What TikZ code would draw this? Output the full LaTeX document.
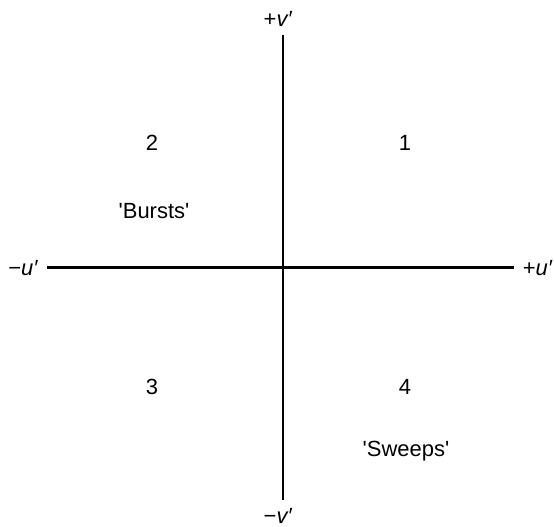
\documentclass[tikz,border=0pt]{standalone}
\usepackage{fontspec}
\setmainfont{Liberation Sans}
\usepackage{tikz}
\usetikzlibrary{positioning}
\tikzset{
  axis/.style     = {draw=black, line width=1.7pt},
  axlbl/.style    = {font=\fontsize{12.5}{15}\selectfont, inner sep=0pt},
  quadnum/.style  = {font=\fontsize{12.5}{15}\selectfont, inner sep=0pt},
  quadname/.style = {font=\fontsize{12.5}{15}\selectfont, inner sep=0pt},
}

\begin{document}
\begin{tikzpicture}
  \useasboundingbox (0,0) rectangle (11.08,10.54);

  % ---------- axis ends ------------------------------------------------
  \coordinate (uneg) at (0.94, 5.18);
  \coordinate (upos) at (10.28,5.18);
  \coordinate (vneg) at (5.66, 0.54);
  \coordinate (vpos) at (5.66, 9.84);

  % ---------- axes -----------------------------------------------------
  \draw[axis] (uneg) -- (upos);
  \draw[axis] (vneg) -- (vpos);

  % ---------- axis labels ----------------------------------------------
  \node[axlbl, left=0.17cm of uneg]  (lbluneg) {−\textit{u′}};
  \node[axlbl, right=0.17cm of upos] (lblupos) {+\textit{u′}};
  \node[axlbl, below=0.16cm of vneg, xshift=-0.1cm] (lblvneg) {−\textit{v′}};
  \node[axlbl, above=0.16cm of vpos, xshift=-0.1cm] (lblvpos) {+\textit{v′}};

  % ---------- quadrants ------------------------------------------------
  \node[quadnum] (q1) at (8.10, 7.68) {1};
  \node[quadnum] (q2) at (3.04, 7.68) {2};
  \node[quadnum] (q3) at (3.04, 2.80) {3};
  \node[quadnum] (q4) at (8.10, 2.80) {4};
  \node[quadname] (bursts) at (3.08, 6.32)
    {\textquotesingle Bursts\textquotesingle};
  \node[quadname] (sweeps) at (8.12, 1.52)
    {\textquotesingle Sweeps\textquotesingle};

\end{tikzpicture}
\end{document}
